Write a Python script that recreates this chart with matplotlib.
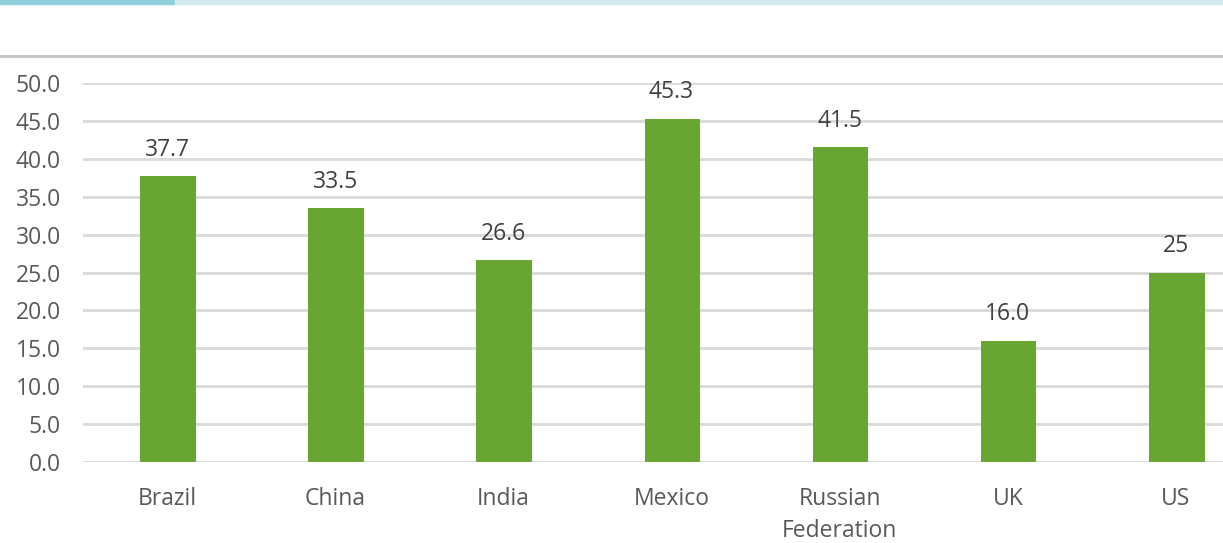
import matplotlib.pyplot as plt
from matplotlib.patches import Rectangle
from matplotlib.lines import Line2D

countries = ["Brazil", "China", "India", "Mexico", "Russian\nFederation", "UK", "US"]
values = [37.7, 33.5, 26.6, 45.3, 41.5, 16.0, 25]
value_labels = ["37.7", "33.5", "26.6", "45.3", "41.5", "16.0", "25"]
yticks = [0, 5, 10, 15, 20, 25, 30, 35, 40, 45, 50]

plt.rcParams["font.family"] = ["Open Sans", "DejaVu Sans"]

W, H = 1223, 543
fig = plt.figure(figsize=(W / 100, H / 100), dpi=100)

# decorative strip on top and separator line
fig.patches.append(Rectangle((0, 1 - 4 / H), 175 / W, 4 / H, transform=fig.transFigure,
                             color="#8ecfdb", zorder=0))
fig.patches.append(Rectangle((175 / W, 1 - 4 / H), 1, 4 / H, transform=fig.transFigure,
                             color="#d3ebf0", zorder=0))
fig.lines.append(Line2D([0, 1], [1 - 56 / H, 1 - 56 / H], transform=fig.transFigure,
                        color="#c8c8c8", linewidth=2.2))

ax = fig.add_axes([83 / W, 1 - 462 / H, 1177 / W, (462 - 83) / H])
x = range(len(countries))
ax.bar([i + 0.005 for i in x], values, width=0.33, color="#69a532", zorder=2)

for i, (v, lab) in enumerate(zip(values, value_labels)):
    ax.text(i, v + 1.9, lab, ha="center", va="bottom", fontsize=16.5, color="#404040")

ax.set_xlim(-0.5, len(countries) - 0.5)
ax.set_ylim(0, 50)
ax.set_yticks(yticks)
ax.set_yticklabels([f"{t:.1f}" for t in yticks], fontsize=16.5, color="#595959")
ax.set_xticks(list(x))
ax.set_xticklabels(countries, fontsize=16.5, color="#595959", linespacing=1.45)
ax.tick_params(length=0, axis="y", pad=16)
ax.tick_params(length=0, axis="x", pad=18)
ax.yaxis.grid(True, color="#d9d9d9", linewidth=2, zorder=0)
ax.set_axisbelow(True)
for s in ax.spines.values():
    s.set_visible(False)

fig.savefig("out.png", dpi=100)
